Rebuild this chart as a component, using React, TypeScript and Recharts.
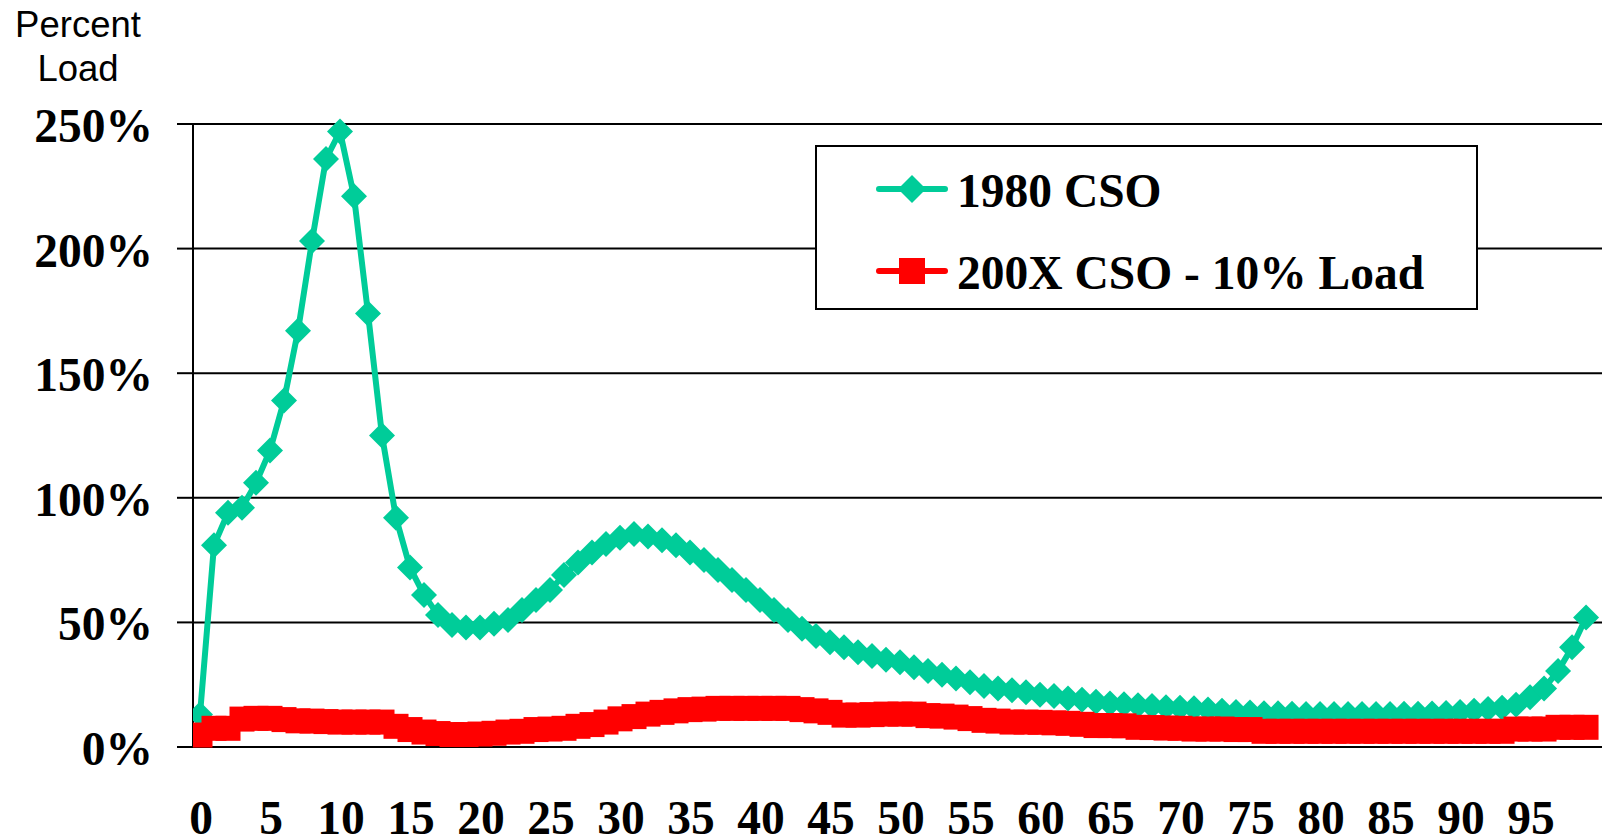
import React from "react";
import { LineChart, Line, XAxis, YAxis, CartesianGrid } from "recharts";

const categories: number[] = [
  0, 1, 2, 3, 4, 5, 6, 7, 8, 9, 10, 11, 12, 13, 14, 15, 16, 17, 18, 19,
  20, 21, 22, 23, 24, 25, 26, 27, 28, 29, 30, 31, 32, 33, 34, 35, 36, 37, 38, 39,
  40, 41, 42, 43, 44, 45, 46, 47, 48, 49, 50, 51, 52, 53, 54, 55, 56, 57, 58, 59,
  60, 61, 62, 63, 64, 65, 66, 67, 68, 69, 70, 71, 72, 73, 74, 75, 76, 77, 78, 79,
  80, 81, 82, 83, 84, 85, 86, 87, 88, 89, 90, 91, 92, 93, 94, 95, 96, 97, 98, 99,
];

const cso1980: number[] = [
  13, 81, 94, 96, 106, 119, 139, 167, 203, 236,
  247, 221, 174, 125, 92, 72, 61, 53, 49, 48,
  48, 49.5, 51, 55, 59, 63, 69, 74, 78, 81.5,
  84, 85.5, 84.5, 83, 81, 78, 75, 71, 67, 63,
  59, 55, 51, 47.5, 44.5, 42, 40, 38, 36.5, 35,
  34, 32, 30.5, 29, 27.5, 26, 24.5, 23.5, 22.8, 22,
  21, 20.5, 19.5, 19, 18.2, 17.5, 17.2, 16.8, 16.5, 16,
  15.8, 15.5, 15, 14.5, 14, 13.8, 13.5, 13.5, 13.3, 13.2,
  13.2, 13.2, 13.2, 13.2, 13.2, 13.2, 13.3, 13.3, 13.4, 13.6,
  14, 14.5, 15.2, 15.8, 17, 20, 23.5, 30.5, 40, 52,
];

const cso200X: number[] = [
  4.8, 7.5, 7.5, 11.2, 11.5, 11.5, 11, 10.5, 10.4, 10.2,
  10, 10, 10, 10, 8.3, 7, 6, 5.4, 5, 5,
  5.2, 5.5, 6, 6.3, 7, 7.2, 7.5, 8.3, 9, 10,
  11.3, 12.2, 13.2, 13.9, 14.5, 15, 15.2, 15.5, 15.5, 15.5,
  15.5, 15.5, 15.5, 15, 14.5, 13.9, 12.8, 12.8, 13, 13.2,
  13.2, 13.2, 12.6, 12.4, 12, 11.4, 10.7, 10.4, 10, 10,
  9.9, 9.7, 9.5, 9.1, 8.6, 8.6, 8.5, 7.9, 7.8, 7.6,
  7.5, 7.2, 7.2, 7.2, 7, 7, 6.3, 6.3, 6.3, 6.3,
  6.3, 6.3, 6.3, 6.3, 6.3, 6.3, 6.3, 6.3, 6.3, 6.3,
  6.3, 6.3, 6.3, 6.3, 7.2, 7.2, 7.2, 7.9, 7.9, 7.9,
];

const xLabelTicks: number[] = [0, 5, 10, 15, 20, 25, 30, 35, 40, 45, 50, 55, 60, 65, 70, 75, 80, 85, 90, 95];
const xBoundaryTicks: number[] = [-0.5, 4.5, 9.5, 14.5, 19.5, 24.5, 29.5, 34.5, 39.5, 44.5, 49.5, 54.5, 59.5, 64.5, 69.5, 74.5, 79.5, 84.5, 89.5, 94.5, 99.5];
const yTicks: number[] = [0, 50, 100, 150, 200, 250];

const seriesNames = ["1980 CSO", "200X CSO - 10% Load"];

const data = categories.map((c, i) => ({ x: c, a: cso1980[i], b: cso200X[i] }));

const GREEN = "#00CC99";
const RED = "#FF0000";
const SERIF = "'Liberation Serif', 'Times New Roman', serif";
const SANS = "'Liberation Sans', Arial, sans-serif";
const FS = 47.5;

const Diamond = (props: any) => {
  const { cx, cy } = props;
  if (cx == null || cy == null) return null;
  const r = 13;
  return <path d={`M${cx},${cy - r}L${cx + r},${cy}L${cx},${cy + r}L${cx - r},${cy}Z`} fill={GREEN} stroke="none" />;
};

const Square = (props: any) => {
  const { cx, cy } = props;
  if (cx == null || cy == null) return null;
  const r = 12.5;
  return <rect x={cx - r} y={cy - r} width={2 * r} height={2 * r} fill={RED} stroke="none" />;
};

const YTick = (props: any) => {
  const { x, y, payload } = props;
  return (
    <text x={x + 4} y={y + 18} textAnchor="end" fontFamily={SERIF} fontWeight="bold" fontSize={FS} fill="#000">
      {payload.value}%
    </text>
  );
};

const XTick = (props: any) => {
  const { x, y, payload } = props;
  return (
    <text x={x + 1} y={y + 87} textAnchor="middle" fontFamily={SERIF} fontWeight="bold" fontSize={FS} fill="#000">
      {payload.value}
    </text>
  );
};

export default function App() {
  return (
    <div style={{ position: "absolute", left: 0, top: 0, width: 1602, height: 838, background: "#fff", overflow: "hidden" }}>
      <LineChart width={1602} height={838} data={data} margin={{ top: 124, right: 0, bottom: 0, left: 0 }}>
        <CartesianGrid vertical={false} stroke="#000" strokeWidth={2} />
        <XAxis
          xAxisId="tk"
          type="number"
          dataKey="x"
          domain={[-0.5, 100.14]}
          ticks={xBoundaryTicks}
          height={0}
          tick={false}
          tickSize={15}
          tickLine={{ stroke: "#000", strokeWidth: 2 }}
          axisLine={{ stroke: "#000", strokeWidth: 2 }}
          allowDataOverflow
        />
        <XAxis
          xAxisId="lbl"
          type="number"
          dataKey="x"
          domain={[-0.5, 100.14]}
          ticks={xLabelTicks}
          height={91}
          tickSize={0}
          tickMargin={0}
          tickLine={false}
          axisLine={false}
          tick={<XTick />}
          interval={0}
          allowDataOverflow
        />
        <YAxis
          type="number"
          domain={[0, 250]}
          ticks={yTicks}
          width={193}
          tickSize={16}
          tickMargin={28}
          tickLine={{ stroke: "#000", strokeWidth: 2 }}
          axisLine={{ stroke: "#000", strokeWidth: 2 }}
          tick={<YTick />}
          interval={0}
        />
        <Line
          xAxisId="lbl"
          type="linear"
          dataKey="a"
          name={seriesNames[0]}
          stroke={GREEN}
          strokeWidth={6}
          dot={<Diamond />}
          activeDot={false}
          isAnimationActive={false}
        />
        <Line
          xAxisId="lbl"
          type="linear"
          dataKey="b"
          name={seriesNames[1]}
          stroke={RED}
          strokeWidth={6}
          dot={<Square />}
          activeDot={false}
          isAnimationActive={false}
        />
      </LineChart>

      <svg width={200} height={100} style={{ position: "absolute", left: 0, top: 0 }}>
        <text x={78} y={37} textAnchor="middle" fontFamily={SANS} fontSize={36.5} fill="#000">Percent</text>
        <text x={78} y={81} textAnchor="middle" fontFamily={SANS} fontSize={36.5} fill="#000">Load</text>
      </svg>

      <svg width={663} height={165} style={{ position: "absolute", left: 815, top: 145 }}>
        <rect x={1} y={1} width={661} height={163} fill="#fff" stroke="#000" strokeWidth={2} />
        <line x1={64} y1={44} x2={130} y2={44} stroke={GREEN} strokeWidth={6} strokeLinecap="round" />
        <path d="M97,30L111,44L97,58L83,44Z" fill={GREEN} />
        <text x={142} y={62} fontFamily={SERIF} fontWeight="bold" fontSize={FS} fill="#000">{seriesNames[0]}</text>
        <line x1={64} y1={126} x2={130} y2={126} stroke={RED} strokeWidth={6} strokeLinecap="round" />
        <rect x={84} y={113} width={26} height={26} fill={RED} />
        <text x={142} y={144} fontFamily={SERIF} fontWeight="bold" fontSize={FS} fill="#000">{seriesNames[1]}</text>
      </svg>
    </div>
  );
}
